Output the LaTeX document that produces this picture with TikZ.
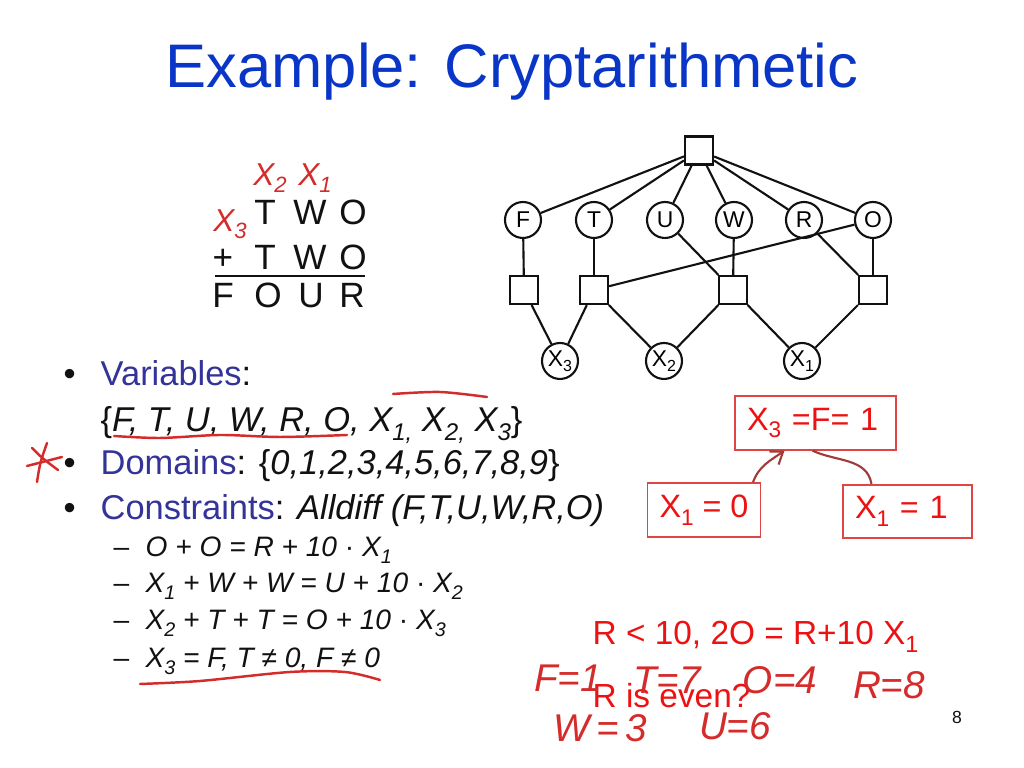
\documentclass[tikz,border=0pt]{standalone}
\usepackage{fontspec}
\setmainfont{Liberation Sans}
\usepackage{xcolor}
\usepackage{graphicx}
\usepackage{tikz}
\usetikzlibrary{arrows.meta}
\definecolor{titleblue}{HTML}{0A36C8}
\definecolor{itemblue}{HTML}{333399}
\definecolor{ink}{HTML}{111111}
\definecolor{slidered}{HTML}{EE1111}
\definecolor{boxred}{HTML}{E04545}
\definecolor{pen}{HTML}{D42B2B}
\definecolor{penbrown}{HTML}{A33A3A}
\newcommand{\fs}[1]{\fontsize{#1}{#1}\selectfont}
\newcommand{\dn}[1]{\raisebox{-0.45ex}{\scalebox{0.7}{#1}}}
\tikzset{
  var/.style={circle,draw=ink,line width=0.6pt,fill=white,minimum size=3.6mm,inner sep=0pt,font=\fs{6.5}},
  fac/.style={draw=ink,line width=0.6pt,fill=white,minimum size=2.8mm,inner sep=0pt},
  edge/.style={draw=ink,line width=0.6pt},
  sumtxt/.style={anchor=base,font=\fs{10},text=ink,inner sep=0pt},
  item/.style={anchor=base west,font=\fs{9.8},text=ink,inner sep=0pt},
  subitem/.style={anchor=base west,font=\fs{8}\itshape,text=ink,inner sep=0pt},
  redbox/.style={draw=boxred,line width=0.5pt,text=slidered,font=\fs{9.2},align=left,inner xsep=1.2mm,minimum height=5.2mm},
  redtxt/.style={anchor=base west,font=\fs{9.5},text=slidered,inner sep=0pt},
  hand/.style={text=pen,font=\fs{11}\itshape,inner sep=0pt},
  handline/.style={draw=pen,line width=0.7pt,line cap=round},
}

\begin{document}
\begin{tikzpicture}[x=1cm,y=1cm]
  \useasboundingbox[fill=white] (0,0) rectangle (10.24,7.68);
  % title
  \node[anchor=base,font=\fs{17.5},text=titleblue] (title) at (5.12,6.80) {Example: Cryptarithmetic};

  % the sum
  \node[sumtxt] (t1) at (2.65,5.43) {T};
  \node[sumtxt] (w1) at (3.10,5.43) {W};
  \node[sumtxt] (o1) at (3.53,5.43) {O};
  \node[sumtxt] (plus) at (2.23,4.98) {+};
  \node[sumtxt] (t2) at (2.65,4.98) {T};
  \node[sumtxt] (w2) at (3.10,4.98) {W};
  \node[sumtxt] (o2) at (3.53,4.98) {O};
  \draw[ink,line width=0.8pt] (2.15,4.92) -- (3.65,4.92);
  \node[sumtxt] (f3) at (2.23,4.60) {F};
  \node[sumtxt] (o3) at (2.68,4.60) {O};
  \node[sumtxt] (u3) at (3.11,4.60) {U};
  \node[sumtxt] (r3) at (3.52,4.60) {R};
  \node[hand,font=\fs{9}\itshape] (hx2) at (2.70,5.90) {X\dn{2}};
  \node[hand,font=\fs{9}\itshape] (hx1) at (3.15,5.90) {X\dn{1}};
  \node[hand,font=\fs{9}\itshape] (hx3) at (2.30,5.44) {X\dn{3}};

  % constraint graph
  \node[fac] (top) at (6.99,6.175) {};
  \node[var] (cF) at (5.23,5.48) {F};
  \node[var] (cT) at (5.94,5.48) {T};
  \node[var] (cU) at (6.65,5.48) {U};
  \node[var] (cW) at (7.34,5.48) {W};
  \node[var] (cR) at (8.04,5.48) {R};
  \node[var] (cO) at (8.73,5.48) {O};
  \node[fac] (sqF) at (5.24,4.78) {};
  \node[fac] (sqT) at (5.94,4.78) {};
  \node[fac] (sqW) at (7.33,4.78) {};
  \node[fac] (sqO) at (8.73,4.78) {};
  \node[var] (cX3) at (5.60,4.07) {X\dn{3}};
  \node[var] (cX2) at (6.64,4.07) {X\dn{2}};
  \node[var] (cX1) at (8.02,4.07) {X\dn{1}};
  \foreach \v in {cF,cT,cU,cW,cR,cO}
    \draw[edge] (top) -- (\v);
  \foreach \a/\b in {cF/sqF,cT/sqT,cW/sqW,cO/sqO,cU/sqW,cR/sqO,cO/sqT,
                     sqF/cX3,sqT/cX3,sqT/cX2,sqW/cX2,sqW/cX1,sqO/cX1}
    \draw[edge] (\a) -- (\b);

  % bullets
  \node[item] (b1) at (0.63,3.82) {\textbullet};
  \node[item] (vars) at (1.00,3.82) {\textcolor{itemblue}{Variables}:};
  \node[item] (varset) at (1.00,3.36) {{\upshape\{}\itshape F, T, U, W, R, O, X\dn{1,} X\dn{2,} X\dn{3}{\upshape\}}};
  \node[item] (b2) at (0.63,2.93) {\textbullet};
  \node[item] (doms) at (1.00,2.93) {\textcolor{itemblue}{Domains}: \{\textit{0,1,2,3,4,5,6,7,8,9}\}};
  \node[item] (b3) at (0.63,2.48) {\textbullet};
  \node[item] (cons) at (1.00,2.48) {\textcolor{itemblue}{Constraints}: \textit{Alldiff (F,T,U,W,R,O)}};
  \foreach \y in {2.11,1.75,1.38,1.00}
    \node[subitem,font=\fs{8}] at (1.13,\y) {--};
  \node[subitem] (c1) at (1.45,2.11) {O + O = R + 10 {\upshape\textperiodcentered} X\dn{1}};
  \node[subitem] (c2) at (1.45,1.75) {X\dn{1} + W + W = U + 10 {\upshape\textperiodcentered} X\dn{2}};
  \node[subitem] (c3) at (1.45,1.38) {X\dn{2} + T + T = O + 10 {\upshape\textperiodcentered} X\dn{3}};
  \node[subitem] (c4) at (1.45,1.00) {X\dn{3} = F, T ≠ 0, F ≠ 0};

  % search boxes
  \node[redbox,minimum width=16.1mm,text width=13.7mm] (x3) at (8.155,3.45) {X\dn{3} =F= 1};
  \node[redbox,minimum width=11.2mm] (x10) at (7.04,2.58) {X\dn{1} = 0};
  \node[redbox,minimum width=12.9mm,text width=10.5mm] (x11) at (9.075,2.565) {X\dn{1} = 1};
  \draw[penbrown,line width=0.6pt,-{Straight Barb[length=1.1mm,width=1.6mm]}]
    ([xshift=4.9mm]x10.north) to[out=70,in=215] ([xshift=-3.1mm]x3.south);
  \draw[penbrown,line width=0.6pt]
    ([xshift=-0.3mm]x3.south) to[out=-25,in=100] ([xshift=-3.6mm]x11.north);

  \node[redtxt] (rlt) at (5.92,1.23) {R {<} 10, 2O = R+10 X\dn{1}};
  \node[redtxt] (reven) at (5.92,0.60) {R is even?};

  % handwriting
  \draw[handline] plot[smooth] coordinates {(1.14,3.32) (1.60,3.30) (2.20,3.33) (2.80,3.31) (3.47,3.33)};
  \draw[handline] plot[smooth] coordinates {(3.93,3.74) (4.40,3.76) (4.87,3.71)};
  \draw[handline] (0.27,3.02) -- (0.62,3.11);
  \draw[handline] (0.32,3.20) .. controls (0.42,3.10) .. (0.58,2.98);
  \draw[handline] (0.47,3.25) .. controls (0.40,3.05) .. (0.37,2.86);
  \draw[handline] plot[smooth] coordinates {(1.40,0.84) (2.00,0.87) (2.90,0.96) (3.45,0.96) (3.80,0.88)};
  \node[hand] (hf) at (5.68,0.90) {F=1};
  \node[hand] (ht) at (6.67,0.88) {T=7};
  \node[hand] (ho) at (7.80,0.88) {O=4};
  \node[hand] (hr) at (8.89,0.83) {R=8};
  \node[hand] (hw) at (6.00,0.40) {W\,=\,3};
  \node[hand] (hu) at (7.35,0.42) {U=6};

  \node[anchor=base,font=\fs{5},text=ink] (pnum) at (9.57,0.44) {8};
\end{tikzpicture}
\end{document}
